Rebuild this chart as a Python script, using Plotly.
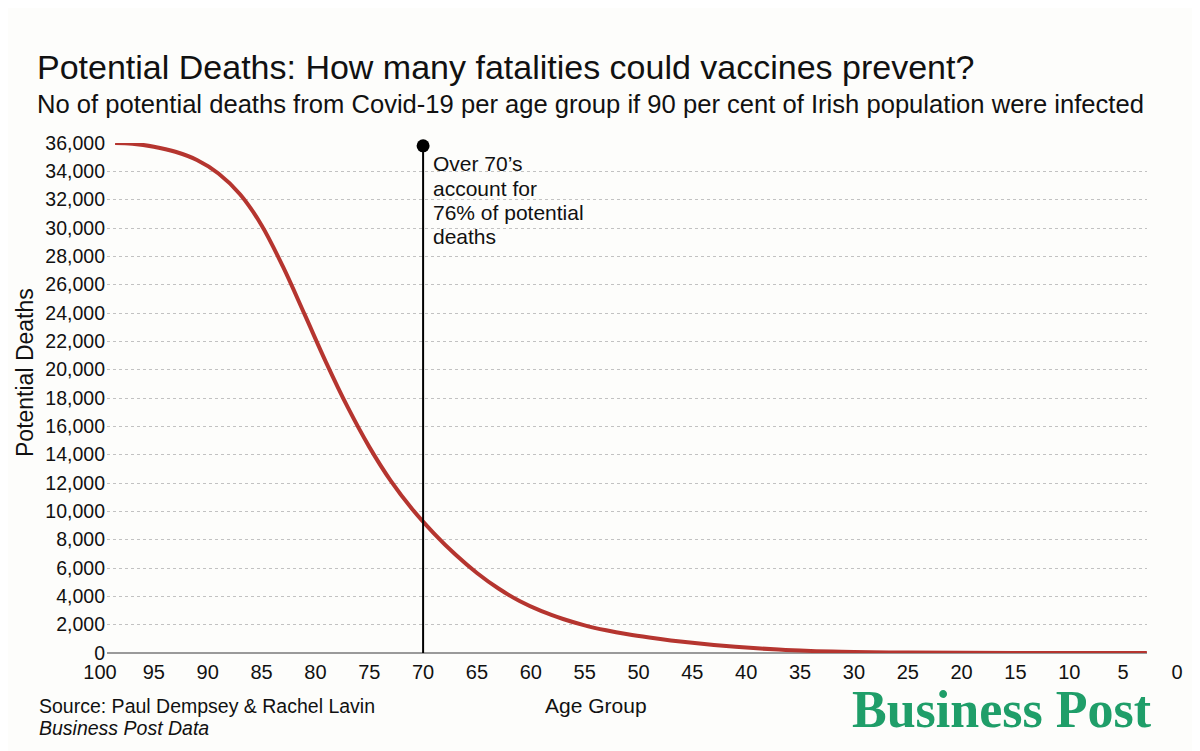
import plotly.graph_objects as go

# ---------------- data ----------------
ages = [98.6, 97, 95, 93, 91, 89, 87, 85, 83, 81, 79, 77, 75, 73, 71, 69, 67, 65,
        63, 61, 59, 57, 55, 53, 51, 49, 47, 45, 43, 41, 39, 37, 35, 32, 30, 25,
        20, 15, 10, 5, 2.8]
deaths = [36000, 35950, 35740, 35380, 34800, 33850, 32380, 30200, 27250, 23900,
          20500, 17350, 14550, 12150, 10150, 8450, 6950, 5650, 4550, 3650, 2950,
          2400, 1950, 1600, 1320, 1090, 890, 720, 570, 440, 330, 240, 170, 100,
          70, 32, 14, 6, 3, 1, 0]

marker_age = 70
marker_top = 35800
annotation_lines = ["Over 70\u2019s", "account for", "76% of potential", "deaths"]

x_ticks = list(range(0, 101, 5))
y_ticks = list(range(0, 36001, 2000))

title = "Potential Deaths: How many fatalities could vaccines prevent?"
subtitle = ("No of potential deaths from Covid-19 per age group if 90 per cent "
            "of Irish population were infected")
source1 = "Source: Paul Dempsey & Rachel Lavin"
source2 = "Business Post Data"
logo = "Business Post"

# ---------------- layout geometry ----------------
OFF = 8                      # page body margin
W, H = 1200 - OFF, 751 - OFF
ml, mr, mt, mb = 100 - OFF, 23, 143 - OFF, 98
pw, ph = W - ml - mr, H - mt - mb


def xp(px):
    """screen pixel x -> paper"""
    return (px - OFF - ml) / pw


def yp(py):
    """screen pixel y -> paper"""
    return (H - mb - (py - OFF)) / ph


scale = pw / 100.0
x_lo = 100 - (107 - 100) / scale
x_hi = 100 - (1147 - 100) / scale

FONT = "Liberation Sans, Arial, sans-serif"
RED = "#b5352f"
GREEN = "#1f9e69"
BG = "#fdfdfb"

fig = go.Figure()

fig.add_trace(go.Scatter(
    x=ages, y=deaths, mode="lines",
    line=dict(color=RED, width=4, shape="spline", smoothing=1.0),
    cliponaxis=False, showlegend=False, hoverinfo="x+y"))

fig.add_trace(go.Scatter(
    x=[marker_age, marker_age], y=[0, marker_top], mode="lines",
    line=dict(color="black", width=2), cliponaxis=False, showlegend=False))

fig.add_trace(go.Scatter(
    x=[marker_age], y=[marker_top], mode="markers",
    marker=dict(color="black", size=13), cliponaxis=False, showlegend=False))

fig.add_trace(go.Scatter(x=[], y=[], xaxis="x2", yaxis="y2", showlegend=False))

annotations = []
line_centers = [164, 188, 212, 236]
for txt, cy in zip(annotation_lines, line_centers):
    annotations.append(dict(
        text=txt, xref="x", yref="paper", x=marker_age, xshift=8, y=yp(cy),
        xanchor="left", yanchor="middle", showarrow=False,
        font=dict(family=FONT, size=21, color="#111")))

annotations += [
    dict(text=title, xref="paper", yref="paper", x=xp(35), y=yp(67),
         xanchor="left", yanchor="middle", showarrow=False,
         font=dict(family=FONT, size=34, color="#111")),
    dict(text=subtitle, xref="paper", yref="paper", x=xp(35), y=yp(104),
         xanchor="left", yanchor="middle", showarrow=False,
         font=dict(family=FONT, size=25.6, color="#111")),
    dict(text="Potential Deaths", xref="paper", yref="paper", x=xp(25), y=yp(373),
         xanchor="center", yanchor="middle", textangle=-90, showarrow=False,
         font=dict(family=FONT, size=23, color="#111")),
    dict(text="Age Group", xref="paper", yref="paper", x=xp(596), y=yp(705),
         xanchor="center", yanchor="middle", showarrow=False,
         font=dict(family=FONT, size=21, color="#111")),
    dict(text=source1, xref="paper", yref="paper", x=xp(37), y=yp(706),
         xanchor="left", yanchor="middle", showarrow=False,
         font=dict(family=FONT, size=19.5, color="#111")),
    dict(text="<i>" + source2 + "</i>", xref="paper", yref="paper", x=xp(37), y=yp(728),
         xanchor="left", yanchor="middle", showarrow=False,
         font=dict(family=FONT, size=19.5, color="#111")),
    dict(text="<b>" + logo + "</b>", xref="paper", yref="paper", x=xp(1002), y=yp(709),
         xanchor="center", yanchor="middle", showarrow=False,
         font=dict(family="Liberation Serif, Times New Roman, serif", size=52, color=GREEN)),
]

fig.update_layout(
    width=W, height=H,
    margin=dict(l=ml, r=mr, t=mt, b=mb),
    paper_bgcolor=BG, plot_bgcolor="rgba(0,0,0,0)",
    showlegend=False,
    xaxis=dict(domain=[xp(107), xp(1147)], range=[x_lo, x_hi],
               showgrid=False, zeroline=False, showline=False,
               showticklabels=False, ticks="", anchor="y"),
    yaxis=dict(range=[0, 36000], tickvals=y_ticks, tickformat=",",
               showgrid=True, gridcolor="#c2c2c2", griddash="dot", gridwidth=1,
               zeroline=True, zerolinecolor="#9a9a9a", zerolinewidth=1.5,
               showline=False, ticks="", ticklabelstandoff=1,
               tickfont=dict(family=FONT, size=19.5, color="#111"), anchor="x"),
    xaxis2=dict(domain=[0, 1], range=[100, 0], tickvals=x_ticks,
                showgrid=False, zeroline=False, showline=False, ticks="",
                ticklabelstandoff=5,
                tickfont=dict(family=FONT, size=20, color="#111"), anchor="y2"),
    yaxis2=dict(domain=[0, 1], range=[0, 1], visible=False, anchor="x2",
                showgrid=False, zeroline=False),
    annotations=annotations,
)

fig.write_html("out.html")
